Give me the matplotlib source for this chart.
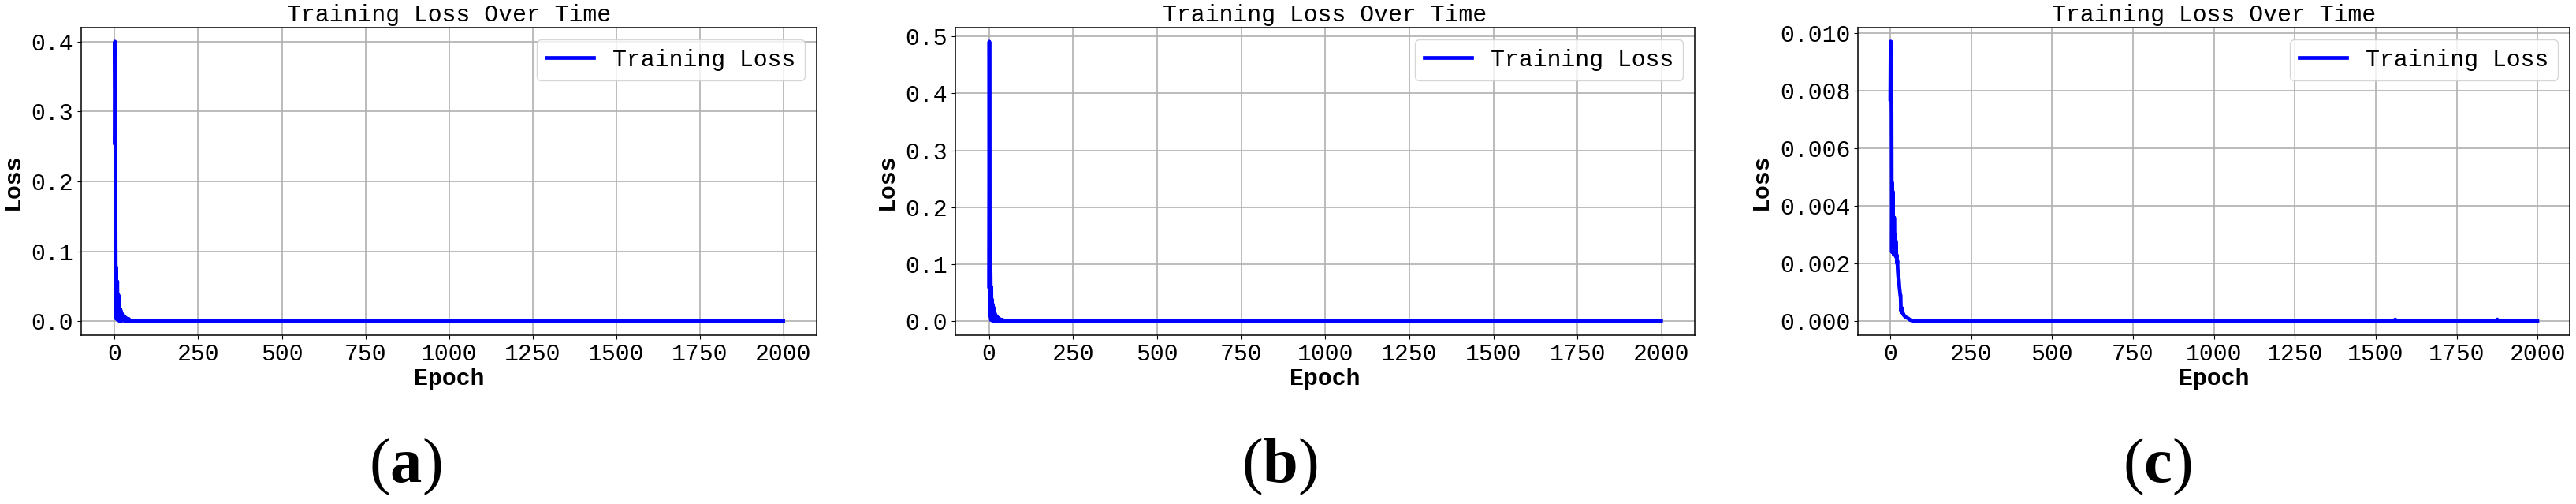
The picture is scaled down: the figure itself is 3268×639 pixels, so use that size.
import numpy as np
import matplotlib
matplotlib.use('Agg')
import matplotlib.pyplot as plt


# loss per epoch for the first 50 epochs, then a few points along the flat tail
early_loss_a = [
    0.255, 0.400, 0.330, 0.120, 0.004, 0.077, 0.003, 0.045, 0.057, 0.002,
    0.030, 0.038, 0.001, 0.021, 0.035, 0.001, 0.018, 0.001, 0.012, 0.015,
    0.001, 0.009, 0.011, 0.001, 0.008, 0.002, 0.006, 0.007, 0.001, 0.005,
    0.006, 0.001, 0.004, 0.005, 0.001, 0.004, 0.003, 0.001, 0.003, 0.003,
    0.001, 0.002, 0.0034, 0.001, 0.002, 0.0015, 0.001, 0.001, 0.0008, 0.0006,
]
tail_epochs_a = [60, 100, 250, 500, 750, 1000, 1250, 1500, 1750, 1999]
tail_loss_a = [0.0003, 0.0001, 0.0001, 0.0001, 0.0, 0.0, 0.0, 0.0, 0.0, 0.0]

early_loss_b = [
    0.061, 0.491, 0.170, 0.009, 0.120, 0.077, 0.002, 0.060, 0.004, 0.038,
    0.001, 0.030, 0.001, 0.025, 0.002, 0.017, 0.001, 0.015, 0.002, 0.011,
    0.001, 0.010, 0.001, 0.008, 0.001, 0.0065, 0.001, 0.006, 0.001, 0.005,
    0.001, 0.004, 0.001, 0.003, 0.001, 0.003, 0.001, 0.0025, 0.001, 0.002,
    0.001, 0.002, 0.001, 0.0015, 0.001, 0.001, 0.0008, 0.0006, 0.0005, 0.0004,
]
tail_epochs_b = [60, 100, 250, 500, 750, 1000, 1250, 1500, 1750, 1999]
tail_loss_b = [0.0002, 0.0001, 0.0001, 0.0, 0.0, 0.0, 0.0, 0.0, 0.0, 0.0]

early_loss_c = [
    0.0077, 0.0097, 0.0097, 0.0081, 0.0072, 0.0024, 0.0048, 0.0024, 0.0045, 0.0025,
    0.0036, 0.0023, 0.0036, 0.0027, 0.0030, 0.0030, 0.0023, 0.0028, 0.0026, 0.0022,
    0.0023, 0.0020, 0.0021, 0.0018, 0.0016, 0.0015, 0.0015, 0.0014, 0.0012, 0.0011,
    0.0010, 0.0009, 0.0009, 0.00036, 0.0004, 0.00045, 0.0003, 0.00045, 0.00035, 0.0003,
    0.00025, 0.00022, 0.00022, 0.0002, 0.00018, 0.00017, 0.00016, 0.00015, 0.00014, 0.00013,
]
tail_epochs_c = [55, 62, 70, 100, 150, 250, 460, 750, 1000, 1250,
                 1555, 1560, 1565, 1870, 1875, 1880, 1999]
tail_loss_c = [0.0001, 0.00004, 0.00001, 0.0, 0.0, 0.0, 0.0, 0.0, 0.0, 0.0,
               0.0, 0.00006, 0.0, 0.0, 0.00006, 0.0, 0.0]

captions = ['a', 'b', 'c']

plt.rcParams['font.family'] = ['Liberation Mono', 'DejaVu Sans Mono']
plt.rcParams['font.size'] = 21.5
plt.rcParams['mathtext.fontset'] = 'custom'
plt.rcParams['mathtext.rm'] = 'Liberation Serif'
plt.rcParams['mathtext.bf'] = 'Liberation Serif:bold'

W, H = 3268, 639
fig = plt.figure(figsize=(W / 100, H / 100), dpi=100)

# axes boxes in pixels: left, right (top 35, bottom 425)
boxes = [(103, 1036), (1212, 2150), (2357, 3260)]
caption_x = [514, 1623, 2737]

panels = [
    (early_loss_a, tail_epochs_a, tail_loss_a),
    (early_loss_b, tail_epochs_b, tail_loss_b),
    (early_loss_c, tail_epochs_c, tail_loss_c),
]

for (l, r), (early, tail_ep, tail_loss), cap, cx in zip(boxes, panels, captions, caption_x):
    ax = fig.add_axes([l / W, (H - 425) / H, (r - l) / W, 390 / H])
    epochs = list(np.arange(len(early))) + tail_ep
    loss = early + tail_loss
    ax.plot(epochs, loss, color='blue', lw=3.4, label='Training Loss')
    ax.set_title('Training Loss Over Time', fontsize=21.5, pad=6)
    ax.set_xlabel('Epoch', fontweight='bold', labelpad=2)
    ax.set_ylabel('Loss', fontweight='bold', labelpad=7)
    ax.set_xticks([0, 250, 500, 750, 1000, 1250, 1500, 1750, 2000])
    ax.grid(True, color='#b0b0b0', lw=1.2)
    for s in ax.spines.values():
        s.set_linewidth(1.1)
    ax.legend(loc='upper right')
    fig.text(cx / W, (H - 592) / H, r'$(\mathbf{%s})$' % cap,
             fontsize=58, ha='center', va='center')

fig.savefig('out.png', dpi=100)
